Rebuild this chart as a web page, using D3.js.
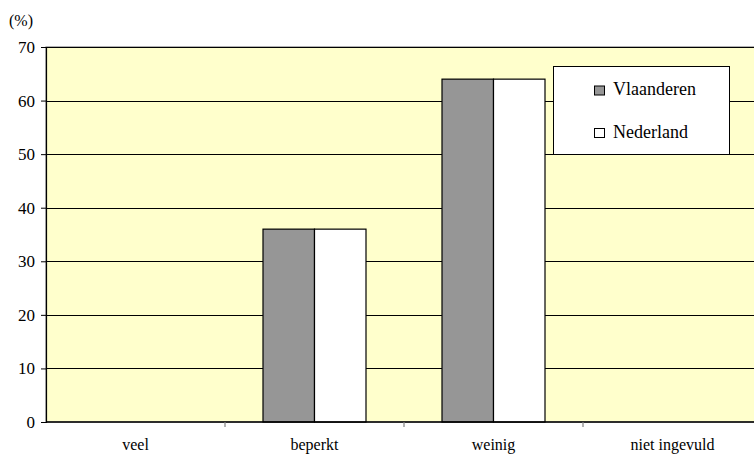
<!DOCTYPE html>
<html><head><meta charset="utf-8">
<script src="https://cdn.jsdelivr.net/npm/d3@7"></script>
<style>body{margin:0;background:#fff;}svg{display:block;}</style>
</head><body>
<script>
const categories = ["veel", "beperkt", "weinig", "niet ingevuld"];
const seriesNames = ["Vlaanderen", "Nederland"];
const vlaanderen = [0, 36, 64, 0];
const nederland = [0, 36, 64, 0];
const yTicks = [0, 10, 20, 30, 40, 50, 60, 70];
const colors = ["#969696", "#ffffff"];

const FONT = "Liberation Serif";
const W = 754, H = 459;
const L = 46, R = 762, T = 47, B = 422;
const svg = d3.select("body").append("svg").attr("width", W).attr("height", H)
  .attr("font-family", FONT).style("font-family", "'Liberation Serif', serif");

const x0 = d3.scaleBand().domain(categories).range([L, R]).padding(0);
const x1 = d3.scaleBand().domain(seriesNames).range([38, x0.bandwidth() - 38]).padding(0);
const y = d3.scaleLinear().domain([0, 70]).range([B, T]);

svg.append("rect").attr("x", L).attr("y", T).attr("width", R - L).attr("height", B - T)
  .attr("fill", "#ffffcc").attr("stroke", "#808080").attr("stroke-width", 1.2);

svg.append("g").selectAll("line").data(yTicks.filter(d => d > 0)).join("line")
  .attr("x1", L).attr("x2", R).attr("y1", d => Math.round(y(d)) + 0.5).attr("y2", d => Math.round(y(d)) + 0.5)
  .attr("stroke", "#000").attr("stroke-width", 1);

const data = categories.map((c, i) => ({cat: c, vals: [vlaanderen[i], nederland[i]]}));
const g = svg.append("g");
data.forEach(d => {
  d.vals.forEach((v, j) => {
    if (v <= 0) return;
    g.append("rect")
      .attr("x", x0(d.cat) + x1(seriesNames[j]))
      .attr("y", y(v))
      .attr("width", x1.bandwidth())
      .attr("height", y(0) - y(v))
      .attr("fill", colors[j]).attr("stroke", "#000").attr("stroke-width", 1.2);
  });
});

const ya = svg.append("g").attr("transform", `translate(${L},0)`)
  .call(d3.axisLeft(y).tickValues(yTicks).tickSize(5).tickPadding(6));
ya.attr("font-family", null).attr("font-size", null);
ya.select(".domain").attr("stroke", "#000").attr("stroke-width", 1.2);
ya.selectAll(".tick line").attr("stroke", "#000");
ya.selectAll("text").style("font-family", "'Liberation Serif', serif").style("font-size", "17px").attr("fill", "#000");

const xa = svg.append("g").attr("transform", `translate(0,${B})`)
  .call(d3.axisBottom(x0).tickSize(0).tickPadding(17));
xa.attr("font-family", null).attr("font-size", null);
xa.select(".domain").remove();
xa.selectAll("text").style("font-family", "'Liberation Serif', serif").style("font-size", "16px").attr("fill", "#000");
svg.append("line").attr("x1", L).attr("x2", R).attr("y1", B).attr("y2", B).attr("stroke", "#000").attr("stroke-width", 1.5);
svg.append("g").selectAll("line").data(categories.slice(1)).join("line")
  .attr("x1", d => x0(d)).attr("x2", d => x0(d)).attr("y1", B).attr("y2", B + 5)
  .attr("stroke", "#808080").attr("stroke-width", 1.2);

svg.append("text").attr("x", 9).attr("y", 26).style("font-family", "'Liberation Serif', serif").style("font-size", "16px").text("(%)");

const lg = svg.append("g");
lg.append("rect").attr("x", 553.5).attr("y", 66.5).attr("width", 176).attr("height", 88)
  .attr("fill", "#fff").attr("stroke", "#000").attr("stroke-width", 1);
seriesNames.forEach((s, i) => {
  const base = 95 + i * 42.5;
  lg.append("rect").attr("x", 594.5).attr("y", base - 9).attr("width", 10).attr("height", 9)
    .attr("fill", colors[i]).attr("stroke", "#000").attr("stroke-width", 1);
  lg.append("text").attr("x", 613).attr("y", base).style("font-family", "'Liberation Serif', serif").style("font-size", "18px").text(s);
});
</script>
</body></html>
